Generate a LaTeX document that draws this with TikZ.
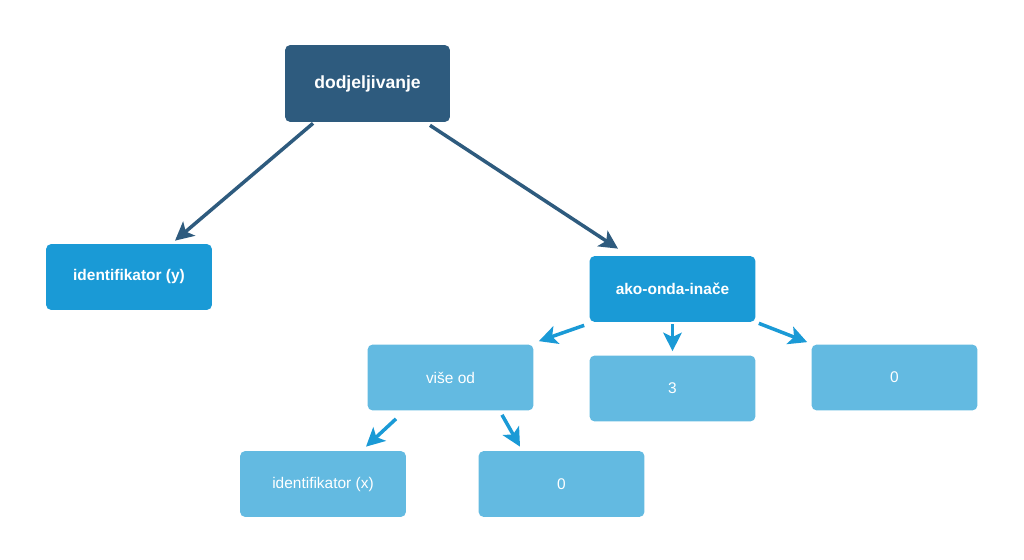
\documentclass[tikz,border=0pt]{standalone}
\usepackage{fontspec}
\setmainfont{Liberation Sans}
\usetikzlibrary{arrows.meta}
\definecolor{darkblue}{HTML}{2E5B7E}
\definecolor{midblue}{HTML}{1A9AD6}
\definecolor{lightblue}{HTML}{63BAE1}
\tikzset{
  box/.style={rectangle, rounded corners=3pt, text=white, minimum width=3.32cm, minimum height=1.32cm, inner sep=0pt},
  rootbox/.style={box, fill=darkblue, minimum width=3.3cm, minimum height=1.54cm, font=\fontsize{10}{12}\selectfont\bfseries},
  midbox/.style={box, fill=midblue, font=\fontsize{8.8}{10}\selectfont\bfseries},
  leafbox/.style={box, fill=lightblue, font=\fontsize{8.8}{10}\selectfont},
  arr/.style={-{Stealth[length=10.5pt,width=10.5pt,inset=2.5pt]}, line width=2pt}
}
\begin{document}
\begin{tikzpicture}[x=0.02cm, y=-0.02cm]
  \useasboundingbox (0,0) rectangle (1024,560);

  % Nodes
  \node[rootbox] (dodj) at (367.5,83.5) {dodjeljivanje};
  \node[midbox] (idy) at (129,277) {identifikator (y)};
  \node[midbox] (ako) at (672.5,289) {ako-onda-inače};
  \node[leafbox] (vise) at (450.5,377.5) {više od};
  \node[leafbox] (three) at (672.5,388.5) {3};
  \node[leafbox] (zeroa) at (894.5,377.5) {0};
  \node[leafbox] (idx) at (323,484) {identifikator (x)};
  \node[leafbox] (zerob) at (561.5,484) {0};

  % Connectors from the root
  \draw[arr, darkblue] ([xshift=-1.09cm,yshift=-0.02cm]dodj.south) -- ([xshift=0.92cm,yshift=0.06cm]idy.north);
  \draw[arr, darkblue] ([xshift=1.25cm,yshift=-0.06cm]dodj.south) -- ([xshift=-1.09cm,yshift=0.14cm]ako.north);

  % Connectors below
  \draw[arr, midblue] ([xshift=-0.1cm,yshift=-0.06cm]ako.south west) -- ([xshift=0.1cm,yshift=0.06cm]vise.north east);
  \draw[arr, midblue] ([yshift=-0.04cm]ako.south) -- ([yshift=0.08cm]three.north);
  \draw[arr, midblue] ([xshift=0.06cm,yshift=-0.02cm]ako.south east) -- ([xshift=-0.08cm,yshift=0.04cm]zeroa.north west);
  \draw[arr, midblue] ([xshift=-1.09cm,yshift=-0.16cm]vise.south) -- ([xshift=0.86cm,yshift=0.08cm]idx.north);
  \draw[arr, midblue] ([xshift=1.03cm,yshift=-0.08cm]vise.south) -- ([xshift=-0.83cm,yshift=0.08cm]zerob.north);
\end{tikzpicture}
\end{document}
